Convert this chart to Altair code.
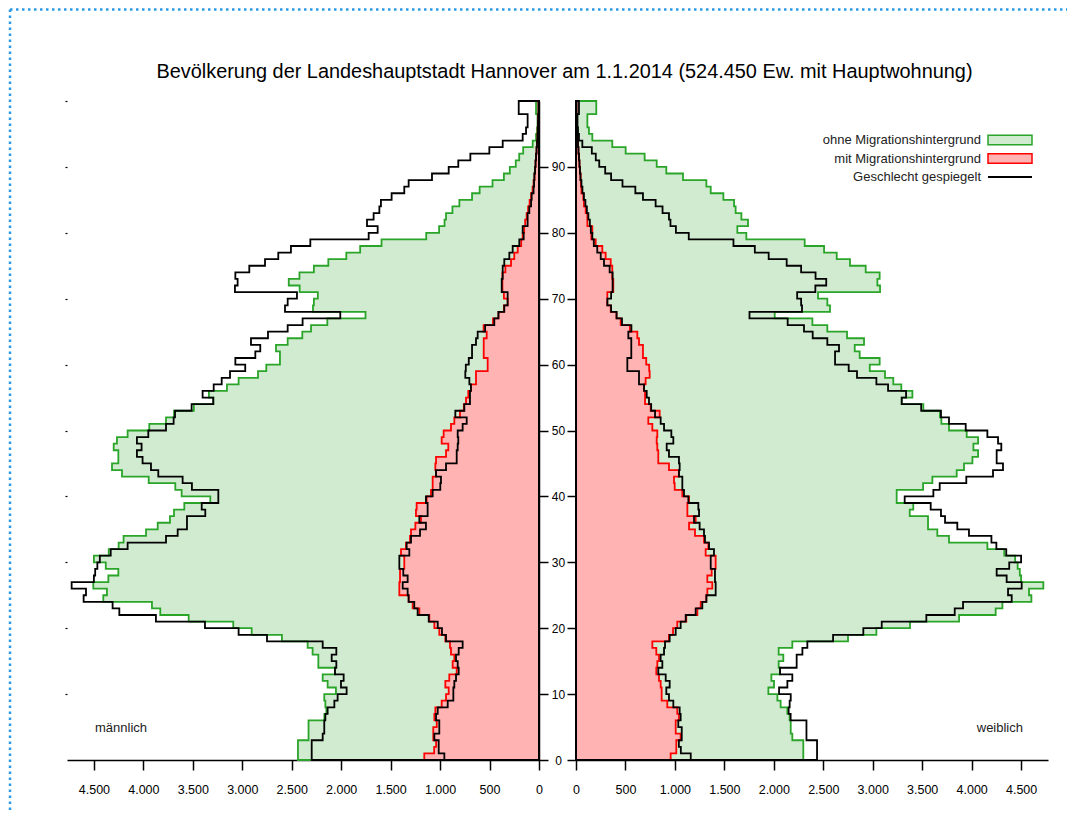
import altair as alt
import pandas as pd

TITLE = "Bevölkerung der Landeshauptstadt Hannover am 1.1.2014 (524.450 Ew. mit Hauptwohnung)"
SIDE_LABELS = ["männlich", "weiblich"]
LEGEND_LABELS = ["ohne Migrationshintergrund", "mit Migrationshintergrund", "Geschlecht gespiegelt"]

AGES = list(range(100))

MALE_TOTAL = [2391, 2437, 2437, 2437, 2330, 2330, 2330, 2170, 2150, 2160,
              2171, 2053, 2137, 2187, 2063, 2231, 2231, 2289, 2339, 2599,
              2905, 3091, 3542, 3829, 3913, 4405, 4368, 4506, 4354, 4253,
              4380, 4500, 4350, 4250, 4200, 3973, 3855, 3731, 3690, 3586,
              3323, 3613, 3677, 3946, 4216, 4317, 4253, 4253, 4300, 4267,
              4159, 3940, 3771, 3690, 3490, 3293, 3337, 3155, 3037, 2841,
              2757, 2619, 2619, 2659, 2541, 2393, 2305, 2140, 1754, 2285,
              2276, 2236, 2420, 2530, 2422, 2276, 2130, 1948, 1808, 1592,
              1140, 1010, 955, 940, 875, 805, 677, 600, 470, 355,
              295, 235, 200, 160, 64, 30, 20, 15, 15, 30]

FEMALE_TOTAL = [2265, 2298, 2298, 2298, 2187, 2171, 2171, 2160, 2137, 2069,
                2036, 1945, 2002, 1975, 2063, 2049, 2096, 2049, 2187, 2750,
                3037, 3377, 3873, 4243, 4311, 4604, 4580, 4725, 4500, 4487,
                4465, 4440, 4330, 4159, 3771, 3653, 3559, 3559, 3374, 3410,
                3242, 3242, 3509, 3603, 3849, 3923, 4008, 4065, 4018, 4065,
                3950, 3771, 3694, 3680, 3512, 3293, 3401, 3289, 3208, 3124,
                2970, 3070, 2868, 2818, 2912, 2740, 2541, 2390, 2009, 2568,
                2541, 2447, 3074, 3047, 3070, 2929, 2770, 2636, 2508, 2312,
                1722, 1631, 1739, 1672, 1614, 1598, 1490, 1362, 1318, 1082,
                913, 816, 694, 502, 367, 165, 131, 115, 115, 205]

MALE_MIT = [1041, 1160, 1060, 1040, 1069, 1069, 1034, 1058, 1048, 984,
            940, 913, 947, 907, 832, 873, 856, 890, 900, 947,
            1008, 1058, 1109, 1210, 1277, 1318, 1412, 1412, 1405, 1405,
            1362, 1362, 1395, 1345, 1304, 1294, 1250, 1193, 1244, 1237,
            1136, 1092, 1075, 1075, 1041, 1048, 1041, 940, 917, 984,
            964, 890, 856, 799, 760, 738, 715, 688, 637, 637,
            519, 519, 559, 559, 559, 529, 560, 465, 410, 355,
            317, 355, 370, 370, 370, 340, 283, 250, 215, 180,
            165, 150, 140, 125, 110, 95, 80, 65, 55, 45,
            40, 35, 30, 25, 20, 15, 13, 10, 8, 5]

FEMALE_MIT = [991, 957, 1014, 1014, 1058, 1008, 1008, 1041, 1024, 923,
              866, 866, 856, 839, 812, 822, 839, 812, 772, 940,
              981, 1024, 1115, 1227, 1261, 1318, 1328, 1378, 1328, 1372,
              1412, 1412, 1311, 1338, 1294, 1203, 1143, 1210, 1126, 1126,
              1143, 1075, 998, 991, 1041, 940, 832, 832, 822, 816,
              822, 772, 731, 846, 755, 698, 698, 688, 704, 745,
              740, 710, 677, 677, 637, 620, 545, 452, 410, 351,
              317, 317, 377, 377, 367, 367, 351, 300, 266, 199,
              155, 165, 115, 115, 98, 80, 74, 55, 50, 47,
              40, 35, 30, 25, 20, 15, 12, 10, 8, 5]

X_TICKS = list(range(0, 4501, 500))
AGE_TICKS = list(range(0, 91, 10))
EDGE_TICKS = list(range(10, 101, 10))

XMAX = 4772
W, H = 472, 659
FONT = "Liberation Sans"
GREEN_FILL = "#d1ebd1"
GREEN_LINE = "#2aa52a"
RED_FILL = "#ffb3b3"
RED_LINE = "#ff0000"
BORDER = "#2a9ae6"
LW = 1.8


def frame(tot, mit, otot, omit):
    def ext(a):
        return list(a) + [a[-1]]
    return pd.DataFrame({
        "age": AGES + [100],
        "tot": ext(tot),
        "mit": ext(mit),
        "otot": ext(otot),
        "omit": ext(omit),
    })


def panel(df, left):
    xscale = alt.Scale(domain=[0, XMAX], reverse=left, nice=False, zero=False)
    yscale = alt.Scale(domain=[0, 100], nice=False, zero=False)
    xaxis = alt.Axis(values=X_TICKS,
                     labelExpr="replace(format(datum.value, ','), ',', '.')",
                     title=None, grid=False, tickSize=10, tickWidth=1.5,
                     tickColor="black", domainColor="black", domainWidth=1.5,
                     labelFont=FONT, labelFontSize=12.5, labelColor="black",
                     labelPadding=13, labelFlush=False, labelOverlap=False, zindex=0)
    if left:
        main_axis = alt.Axis(orient="right", values=AGE_TICKS, labels=False,
                             tickSize=9, tickWidth=1.5, tickColor="black",
                             domainColor="black", domainWidth=1.5,
                             title=None, grid=False, zindex=0)
    else:
        main_axis = alt.Axis(orient="left", values=AGE_TICKS, labels=True,
                             labelAlign="center", labelBaseline="middle",
                             labelPadding=9, labelFont=FONT, labelFontSize=12,
                             labelColor="black", tickSize=9, tickWidth=1.5,
                             tickColor="black", domainColor="black", domainWidth=1.5,
                             title=None, grid=False, labelFlush=False,
                             labelOverlap=False, zindex=0)
    edge_axis = alt.Axis(orient="left", values=EDGE_TICKS, labels=False, domain=False,
                         tickSize=2, tickWidth=1.2, tickColor="black",
                         title=None, grid=False)

    def X(f):
        return alt.X(f"{f}:Q", scale=xscale, axis=xaxis, stack=None)

    def Y(axis):
        return alt.Y("age:Q", scale=yscale, axis=axis)

    step = dict(orient="horizontal", interpolate="step-before", strokeWidth=LW)
    base = alt.Chart(df)
    green = base.mark_area(fill=GREEN_FILL, stroke=GREEN_LINE, **step).encode(
        x=X("tot"), y=Y(main_axis))
    red = base.mark_area(fill=RED_FILL, stroke=RED_LINE, **step).encode(
        x=X("mit"), y=Y(None))
    blk_tot = base.mark_area(fill="transparent", stroke="black", **step).encode(
        x=X("otot"), y=Y(edge_axis if left else None))
    blk_mit = base.mark_area(fill="transparent", stroke="black", **step).encode(
        x=X("omit"), y=Y(None))

    one = pd.DataFrame({"k": [0]})
    if left:
        side = alt.Chart(one).mark_text(text=SIDE_LABELS[0], align="left", baseline="middle",
                                        font=FONT, fontSize=13, color="#222").encode(
            x=alt.value(28), y=alt.value(627))
        title = alt.Chart(one).mark_text(text=TITLE, align="center", baseline="middle",
                                         font=FONT, fontSize=19.9, color="black").encode(
            x=alt.value(497.5), y=alt.value(-29))
        dots = dict(color=BORDER, strokeWidth=2.5, strokeDash=[2.5, 3.5])
        border_top = alt.Chart(one).mark_rule(**dots).encode(
            x=alt.value(-57), x2=alt.value(1000), y=alt.value(-91.5))
        border_left = alt.Chart(one).mark_rule(**dots).encode(
            x=alt.value(-57), y=alt.value(-91.5), y2=alt.value(712))
        layers = [green, red, blk_tot, blk_mit, side, title, border_top, border_left]
        return alt.layer(*layers).resolve_axis(y="independent").properties(width=W, height=H)

    side = alt.Chart(one).mark_text(text=SIDE_LABELS[1], align="right", baseline="middle",
                                    font=FONT, fontSize=13, color="#222").encode(
        x=alt.value(447), y=alt.value(627))
    rows_y = [39, 57.5, 76]
    leg = []
    for i, lab in enumerate(LEGEND_LABELS):
        leg.append(alt.Chart(one).mark_text(text=lab, align="right", baseline="middle",
                                            font=FONT, fontSize=13, color="#222").encode(
            x=alt.value(405), y=alt.value(rows_y[i])))
    leg.append(alt.Chart(one).mark_rect(fill=GREEN_FILL, stroke=GREEN_LINE, strokeWidth=1.5).encode(
        x=alt.value(412), x2=alt.value(456), y=alt.value(rows_y[0] - 4.8), y2=alt.value(rows_y[0] + 4.8)))
    leg.append(alt.Chart(one).mark_rect(fill=RED_FILL, stroke=RED_LINE, strokeWidth=1.5).encode(
        x=alt.value(412), x2=alt.value(456), y=alt.value(rows_y[1] - 4.8), y2=alt.value(rows_y[1] + 4.8)))
    leg.append(alt.Chart(one).mark_rule(color="black", strokeWidth=1.8).encode(
        x=alt.value(412), x2=alt.value(456), y=alt.value(rows_y[2])))
    layers = [green, red, blk_tot, blk_mit, side] + leg
    return alt.layer(*layers).resolve_axis(y="independent").properties(width=W, height=H)


male_df = frame(MALE_TOTAL, MALE_MIT, FEMALE_TOTAL, FEMALE_MIT)
female_df = frame(FEMALE_TOTAL, FEMALE_MIT, MALE_TOTAL, MALE_MIT)

chart = alt.hconcat(panel(male_df, True), panel(female_df, False),
                    spacing=37, bounds="flush").properties(
    padding={"left": 0, "top": 0, "right": 0, "bottom": 0},
).configure_view(strokeWidth=0)

chart.save("out.html", embed_options={"renderer": "svg", "actions": False})
